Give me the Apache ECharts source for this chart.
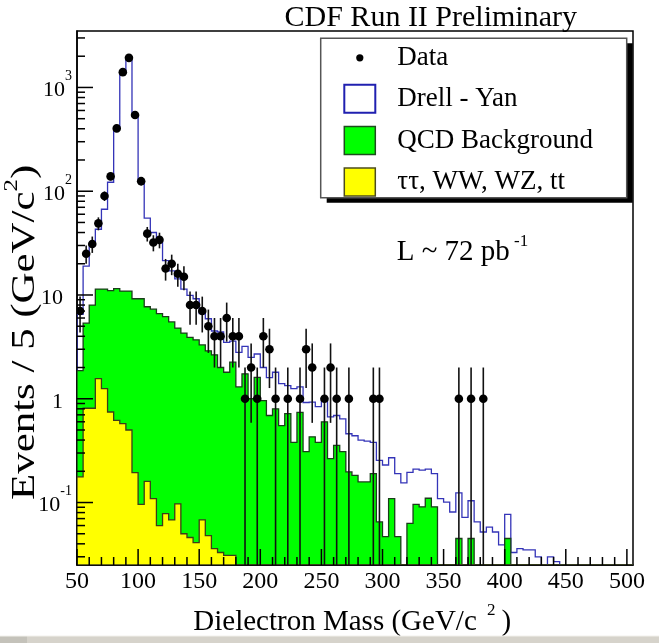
<!DOCTYPE html>
<html>
<head>
<meta charset="utf-8">
<script src="https://cdn.jsdelivr.net/npm/echarts@6/dist/echarts.min.js"></script>
<style>
html,body{margin:0;padding:0;background:#fff;}
#chart{width:659px;height:643px;}
</style>
</head>
<body>
<div id="chart"></div>
<script>
// ---- binning ----
const binStart = 50;
const binWidth = 5;

// ---- histogram contents (events / 5 GeV), one value per bin from 50 GeV ----
const dyValues = [
  6.5, 19, 30, 43, 67, 122, 403, 1400, 1845, 540,
  125, 55, 40, 33, 21.4, 17.1, 14.3, 11.4, 9.9, 9.2,
  6.6, 5.9, 4.5, 4.4, 3.5, 3.6, 2.8, 3.2, 2.5, 2.7,
  2.0, 1.6, 1.8, 1.4, 1.34, 1.25, 1.3, 0.92, 0.93, 0.84,
  1.0, 0.67, 0.69, 0.64, 0.46, 0.44, 0.40, 0.39, 0.38, 0.255,
  0.23, 0.27, 0.19, 0.155, 0.195, 0.21, 0.205, 0.21, 0.19, 0.109,
  0.101, 0.081, 0.124, 0.072, 0.104, 0.065, 0.052, 0.058, 0.052, 0.039,
  0.077, 0.033, 0.036, 0.035, 0.035, 0.030, 0, 0.030, 0.027, 0,
  0, 0, 0, 0, 0, 0, 0, 0, 0, 0,
  0
];
const qcdValues = [
  1.87, 5.35, 8.0, 11.4, 11.4, 11.0, 11.5, 10.9, 10.9, 9.2,
  9.2, 7.7, 7.3, 6.6, 6.2, 5.5, 4.8, 4.3, 3.9, 3.7,
  3.3, 2.9, 2.65, 2.0, 1.8, 2.25, 1.3, 1.74, 1.0, 1.61,
  0.96, 0.69, 0.8, 0.55, 0.72, 0.38, 0.74, 0.31, 0.43, 0.38,
  0.60, 0.265, 0.356, 0.31, 0.197, 0.183, 0.158, 0.158, 0.19, 0.065,
  0.047, 0.109, 0.047, 0, 0.063, 0.096, 0.091, 0.11, 0.091, 0,
  0, 0, 0.045, 0, 0.045, 0, 0, 0, 0, 0,
  0.045, 0, 0, 0, 0, 0, 0, 0, 0, 0,
  0, 0, 0, 0, 0, 0, 0, 0, 0, 0,
  0
];
const ewkValues = [
  0.177, 0.81, 0.81, 1.56, 1.25, 0.745, 0.62, 0.575, 0.50, 0.194,
  0.096, 0.16, 0.109, 0.060, 0.078, 0.068, 0.097, 0.050, 0.046, 0.041,
  0.068, 0.048, 0.036, 0.033, 0.031, 0.031, 0, 0, 0, 0,
  0, 0, 0, 0, 0, 0, 0, 0, 0, 0,
  0, 0, 0, 0, 0, 0, 0, 0, 0, 0,
  0, 0, 0, 0, 0, 0, 0, 0, 0, 0,
  0, 0, 0, 0, 0, 0, 0, 0, 0, 0,
  0, 0, 0, 0, 0, 0, 0, 0, 0, 0,
  0, 0, 0, 0, 0, 0, 0, 0, 0, 0,
  0
];
const dataCounts = [
  7, 25, 31, 49, 90, 139, 403, 1404, 1929, 542,
  125, 39, 32, 34, 18, 20, 16, 15, 8, 8,
  7, 5, 4, 4, 6, 4, 4, 1, 2, 1,
  4, 3, 1, 0, 1, 0, 1, 3, 2, 0,
  1, 2, 1, 0, 1, 0, 0, 0, 1, 1,
  0, 0, 0, 0, 0, 0, 0, 0, 0, 0,
  0, 0, 1, 0, 1, 0, 1, 0, 0, 0,
  0, 0, 0, 0, 0, 0, 0, 0, 0, 0,
  0, 0, 0, 0, 0, 0, 0, 0, 0, 0,
  0
];

// ---- axes ----
const X_MIN = 50, X_MAX = 505;
const Y_MIN = 0.025, Y_MAX = 3500;
const xMajorTicks = [50, 100, 150, 200, 250, 300, 350, 400, 450, 500];
const xMinorTicks = [60, 70, 80, 90, 110, 120, 130, 140, 160, 170, 180, 190,
  210, 220, 230, 240, 260, 270, 280, 290, 310, 320, 330, 340, 360, 370, 380, 390,
  410, 420, 430, 440, 460, 470, 480, 490];
const yMajorTicks = [0.1, 1, 10, 100, 1000];
const yMinorTicks = [0.03, 0.04, 0.05, 0.06, 0.07, 0.08, 0.09,
  0.2, 0.3, 0.4, 0.5, 0.6, 0.7, 0.8, 0.9,
  2, 3, 4, 5, 6, 7, 8, 9,
  20, 30, 40, 50, 60, 70, 80, 90,
  200, 300, 400, 500, 600, 700, 800, 900,
  2000, 3000];

const FONT = "'Liberation Serif', 'Times New Roman', serif";
const GREEN = '#00ff00', YELLOW = '#ffff00', BLUE = '#3434b8';

function histSeries(name, values, style, closed, color) {
  return {
    type: 'custom', name: name, coordinateSystem: 'cartesian2d', clip: true,
    data: [[binStart, 1]], encode: { x: 0, y: 1 },
    itemStyle: { color: color },
    silent: true,
    renderItem: function (params, api) {
      const pts = [api.coord([binStart, Y_MIN])];
      for (let i = 0; i < values.length; i++) {
        const lo = binStart + i * binWidth, hi = lo + binWidth;
        const v = values[i] > 0 ? values[i] : Y_MIN;
        pts.push(api.coord([lo, v]), api.coord([hi, v]));
      }
      pts.push(api.coord([binStart + values.length * binWidth, Y_MIN]));
      return { type: closed ? 'polygon' : 'polyline', shape: { points: pts }, style: style };
    }
  };
}

const dataPoints = [];
dataCounts.forEach(function (n, i) {
  if (n > 0) dataPoints.push([binStart + binWidth * (i + 0.5), n]);
});

const chart = echarts.init(document.getElementById('chart'), null, { renderer: 'canvas' });

const LEG_X = 320.7, LEG_Y = 38.3, LEG_W = 306, LEG_H = 159.4;

const option = {
  animation: false,
  backgroundColor: '#ffffff',
  grid: { left: 77, right: 26, top: 31, bottom: 78, show: true, borderColor: '#000', borderWidth: 1.5,
          backgroundColor: 'transparent', containLabel: false, outerBoundsMode: 'none' },
  xAxis: {
    type: 'value', min: X_MIN, max: X_MAX, interval: 50,
    axisLine: { show: true, lineStyle: { color: '#000', width: 1.5 } },
    axisTick: { show: false }, splitLine: { show: false },
    axisLabel: {
      margin: 5, fontSize: 24, fontFamily: FONT, color: '#000',
      formatter: function (v) { return (v % 50 === 0 && v <= 500) ? String(v) : ''; }
    }
  },
  yAxis: {
    type: 'log', logBase: 10, min: Y_MIN, max: Y_MAX,
    axisLine: { show: true, lineStyle: { color: '#000', width: 1.5 } },
    axisTick: { show: false }, splitLine: { show: false }, minorTick: { show: false },
    axisLabel: {
      margin: 5, padding: [6, 0, 0, 0], color: '#000',
      formatter: function (v) {
        const k = Math.log10(v);
        const r = Math.round(k);
        if (Math.abs(k - r) > 1e-6 || r < -1 || r > 3) return '';
        if (r === 0) return '{b|1}{sp| }';
        if (r === 1) return '{b|10}{sp| }';
        return '{b|10}{s|' + r + '}';
      },
      rich: {
        b: { fontSize: 22, fontFamily: FONT, color: '#000', lineHeight: 42 },
        s: { fontSize: 14, fontFamily: FONT, color: '#000', verticalAlign: 'top' },
        sp: { width: 9, fontSize: 10 }
      }
    }
  },
  legend: {
    orient: 'vertical', left: LEG_X, top: LEG_Y,
    padding: [5.5, 0, 5.5, 22.6],
    itemWidth: 31, itemHeight: 28, itemGap: 12,
    backgroundColor: 'transparent', borderWidth: 0,
    selectedMode: false,
    textStyle: { fontFamily: FONT, fontSize: 27, lineHeight: 28, color: '#000', padding: [0, 0, 0, 17] },
    data: [
      { name: 'Data', icon: 'path://M0,0M31,28M19.1,14A3.6,3.6,0,1,1,11.9,14A3.6,3.6,0,1,1,19.1,14Z',
        itemStyle: { color: '#000', borderWidth: 0 } },
      { name: 'Drell - Yan', icon: 'rect', itemStyle: { color: '#ffffff', borderColor: '#2020b0', borderWidth: 2 } },
      { name: 'QCD Background', icon: 'rect', itemStyle: { color: GREEN, borderColor: '#1d4d1d', borderWidth: 1.5 } },
      { name: 'ττ, WW, WZ, tt', icon: 'rect', itemStyle: { color: YELLOW, borderColor: '#4d4d1d', borderWidth: 1.5 } }
    ]
  },
  series: [
    histSeries('Drell - Yan', dyValues, { fill: null, stroke: BLUE, lineWidth: 1.3 }, false, '#ffffff'),
    histSeries('QCD Background', qcdValues, { fill: GREEN, stroke: '#1a3d1a', lineWidth: 1.3 }, true, GREEN),
    histSeries('ττ, WW, WZ, tt', ewkValues, { fill: YELLOW, stroke: '#3d3d1a', lineWidth: 1.3 }, true, YELLOW),
    {
      type: 'custom', name: 'Data', coordinateSystem: 'cartesian2d', clip: true,
      data: dataPoints, encode: { x: 0, y: 1 }, itemStyle: { color: '#000' },
      renderItem: function (params, api) {
        const x = api.value(0), n = api.value(1), e = Math.sqrt(n);
        const c = api.coord([x, n]);
        const top = api.coord([x, n + e]);
        const bot = api.coord([x, Math.max(n - e, Y_MIN)]);
        return { type: 'group', children: [
          { type: 'line', shape: { x1: c[0], y1: top[1], x2: c[0], y2: bot[1] }, style: { stroke: '#111', lineWidth: 1.6 } },
          { type: 'circle', shape: { cx: c[0], cy: c[1], r: 4.3 }, style: { fill: '#000' } }
        ] };
      }
    },
    {
      type: 'custom', name: 'ticks', coordinateSystem: 'cartesian2d', clip: false, silent: true,
      data: [[X_MIN, 1]], encode: { x: 0, y: 1 }, z: 5,
      renderItem: function (params, api) {
        const children = [];
        const st = { stroke: '#000', lineWidth: 1.5 };
        const origin = api.coord([X_MIN, Y_MIN]);
        const left = origin[0], bottom = origin[1];
        function tick(x1, y1, x2, y2) { children.push({ type: 'line', shape: { x1: x1, y1: y1, x2: x2, y2: y2 }, style: st }); }
        xMajorTicks.forEach(function (v) { const x = api.coord([v, Y_MIN])[0]; tick(x, bottom, x, bottom - 16); });
        xMinorTicks.forEach(function (v) { const x = api.coord([v, Y_MIN])[0]; tick(x, bottom, x, bottom - 8); });
        yMajorTicks.forEach(function (v) { const y = api.coord([X_MIN, v])[1]; tick(left, y, left + 16, y); });
        yMinorTicks.forEach(function (v) { const y = api.coord([X_MIN, v])[1]; tick(left, y, left + 8, y); });
        return { type: 'group', children: children };
      }
    }
  ],
  graphic: [
    { type: 'rect', z: 3, silent: true, shape: { x: LEG_X + 6, y: LEG_Y + 5, width: LEG_W, height: LEG_H }, style: { fill: '#000' } },
    { type: 'rect', z: 3, silent: true, shape: { x: LEG_X, y: LEG_Y, width: LEG_W, height: LEG_H }, style: { fill: '#fff', stroke: '#555', lineWidth: 1.5 } },
    { type: 'text', z: 10, x: 577, y: 18.5, style: { text: 'CDF Run II Preliminary', fontFamily: FONT, fontSize: 30, fill: '#000', align: 'right', verticalAlign: 'middle' } },
    { type: 'text', z: 10, x: 396.7, y: 251.9, style: {
        text: '{a|L ~ 72 pb}{s| -1}', align: 'left', verticalAlign: 'middle',
        rich: { a: { fontFamily: FONT, fontSize: 29, fill: '#000', lineHeight: 37 },
                s: { fontFamily: FONT, fontSize: 17, fill: '#000', verticalAlign: 'top' } } } },
    { type: 'text', z: 10, x: 193.3, y: 621.9, style: {
        text: '{t|Dielectron Mass (GeV/c }{s|2}{t|)}', align: 'left', verticalAlign: 'middle',
        rich: { t: { fontFamily: FONT, fontSize: 29, fill: '#000', lineHeight: 39 },
                s: { fontFamily: FONT, fontSize: 17, fill: '#000', verticalAlign: 'top', padding: [0, 6, 0, 3] } } } },
    { type: 'text', z: 10, x: 25, y: 500, rotation: Math.PI / 2, scaleX: 1.3, style: {
        text: '{t|Events / 5 (GeV/c}{s|2}{t|)}', align: 'left', verticalAlign: 'middle',
        rich: { t: { fontFamily: FONT, fontSize: 33, fill: '#000', lineHeight: 44 },
                s: { fontFamily: FONT, fontSize: 19, fill: '#000', verticalAlign: 'top' } } } },
    { type: 'rect', z: 10, shape: { x: 0, y: 636, width: 659, height: 7 }, style: { fill: '#d6d3cb' }, silent: true },
    { type: 'rect', z: 10, shape: { x: 0, y: 636, width: 27, height: 7 }, style: { fill: '#c4c2ba' }, silent: true },
    { type: 'line', z: 10, shape: { x1: 0, y1: 636, x2: 659, y2: 636 }, style: { stroke: '#f2f1ec', lineWidth: 1 }, silent: true }
  ]
};
chart.setOption(option);
</script>
</body>
</html>
